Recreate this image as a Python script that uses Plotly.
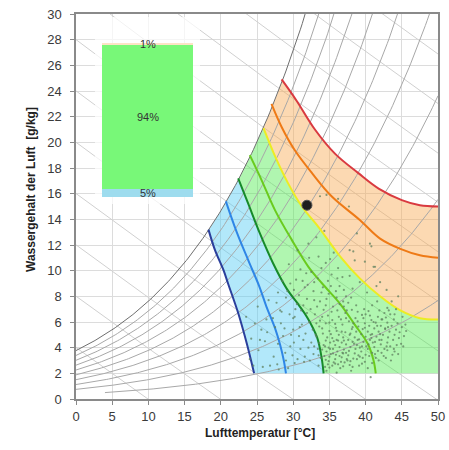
import math
import plotly.graph_objects as go

# ---------------- data ----------------
x_tick_vals = list(range(0, 51, 5))
y_tick_vals = list(range(0, 31, 2))

rh_levels = [10, 20, 30, 40, 50, 60, 70, 80, 90, 100]       # % relative humidity curves
rh_start_temp = [4, 0, 0, 0, 0, 0, 0, 0, 0, 0]
enthalpy_levels = [10, 20, 30, 40, 50, 60, 70, 80, 90, 100, 110, 120, 130, 140]  # kJ/kg

# zone boundary lines (temperature °C, water content g/kg)
navy_T = [18.3, 19.2, 20.4, 21.0, 22.4, 23.6, 24.6]
navy_W = [13.2, 11.6, 10.0, 9.0, 6.7, 4.3, 2.0]
blue_T = [20.7, 22.2, 23.8, 25.3, 26.3, 27.5, 28.2, 28.7, 29.0]
blue_W = [15.4, 13.0, 10.8, 8.8, 7.2, 5.5, 4.2, 3.0, 2.0]
dgreen_T = [22.4, 23.8, 25.4, 27.2, 29.1, 30.8, 32.0, 33.3, 33.9, 34.2]
dgreen_W = [17.2, 15.2, 12.9, 10.6, 8.6, 7.3, 6.3, 4.8, 3.3, 2.0]
lime_T = [24.0, 25.6, 27.5, 29.8, 32.1, 34.0, 36.5, 38.5, 40.3, 41.1, 41.4]
lime_W = [19.0, 17.1, 14.7, 12.4, 10.3, 9.0, 7.4, 5.8, 4.3, 3.0, 2.0]
yellow_T = [25.9, 27.5, 29.3, 31.2, 33.5, 36.5, 39.2, 42.0, 44.8, 47.5, 50.0]
yellow_W = [21.1, 18.9, 16.8, 15.0, 13.4, 11.1, 9.4, 8.0, 6.9, 6.3, 6.2]
orange_T = [27.0, 28.4, 30.2, 32.6, 35.3, 39.2, 42.0, 44.8, 47.5, 50.0]
orange_W = [23.0, 21.2, 19.4, 17.6, 15.8, 13.95, 12.5, 11.7, 11.2, 11.0]
red_T = [28.4, 30.4, 33.0, 35.8, 39.0, 41.8, 45.0, 47.5, 50.0]
red_W = [24.9, 23.3, 21.0, 19.1, 17.6, 16.4, 15.5, 15.1, 15.0]
zone_bottom_W = 2.0
zone_right_T = 50.0

# measured hourly conditions (scatter)
obs_points = [
    (35.4, 2.6), (36.2, 2.7), (37.1, 2.85), (37.9, 2.95), (38.8, 3.1), (39.6, 3.2), (40.5, 3.35), (41.3, 3.5),
    (42.2, 3.6), (43.0, 3.8), (43.9, 3.9), (34.9, 2.95), (35.8, 3.1), (36.7, 3.25), (37.6, 3.4), (38.5, 3.55),
    (39.4, 3.7), (40.3, 3.9), (41.2, 4.05), (42.1, 4.25), (43.0, 4.4), (43.8, 4.6), (44.6, 4.75), (34.3, 3.35),
    (35.2, 3.5), (36.1, 3.7), (37.0, 3.85), (37.9, 4.05), (38.8, 4.2), (39.7, 4.45), (40.6, 4.6), (41.5, 4.85),
    (42.4, 5.0), (43.3, 5.25), (44.2, 5.4), (45.0, 5.6), (34.0, 3.85), (34.9, 4.0), (35.8, 4.2), (36.7, 4.4),
    (37.6, 4.6), (38.5, 4.8), (39.4, 5.05), (40.3, 5.25), (41.2, 5.5), (42.1, 5.7), (43.0, 5.95), (43.9, 6.2),
    (33.6, 4.35), (34.5, 4.55), (35.4, 4.75), (36.3, 5.0), (37.2, 5.2), (38.1, 5.45), (39.0, 5.65), (39.9, 5.9),
    (40.8, 6.15), (41.7, 6.4), (42.6, 6.7), (33.2, 4.85), (34.1, 5.1), (35.0, 5.3), (35.9, 5.55), (36.8, 5.8),
    (37.7, 6.05), (38.6, 6.3), (39.5, 6.55), (40.4, 6.85), (32.7, 5.4), (33.6, 5.65), (34.5, 5.9), (35.4, 6.15),
    (36.3, 6.4), (37.2, 6.7), (38.1, 6.95),
    (35.8, 2.75), (36.6, 2.9), (37.5, 3.0), (38.3, 3.15), (39.2, 3.3), (40.0, 3.45), (40.9, 3.6), (41.7, 3.75),
    (42.6, 3.9), (43.4, 4.1), (44.3, 4.2), (35.0, 3.3), (35.9, 3.45), (36.8, 3.6), (37.7, 3.75), (38.6, 3.9),
    (39.5, 4.1), (40.4, 4.25), (41.3, 4.45), (42.2, 4.6), (43.1, 4.8), (44.0, 5.0), (34.6, 3.7), (35.5, 3.9),
    (36.4, 4.05), (37.3, 4.25), (38.2, 4.45), (39.1, 4.65), (40.0, 4.85), (40.9, 5.05), (41.8, 5.25), (42.7, 5.45),
    (43.6, 5.7), (34.2, 4.2), (35.1, 4.4), (36.0, 4.6), (36.9, 4.8), (37.8, 5.0), (38.7, 5.25), (39.6, 5.45),
    (40.5, 5.7), (41.4, 5.95), (42.3, 6.2),
    (36.5, 2.4), (38.2, 2.5), (40.9, 2.8), (42.8, 3.2), (44.5, 3.5), (39.1, 2.6), (41.8, 3.0), (44.9, 4.3),
    (45.3, 4.9), (43.5, 3.0), (37.4, 3.1), (35.1, 3.9), (36.2, 4.55), (38.9, 4.6), (40.1, 4.1), (41.9, 4.6),
    (42.7, 5.5), (44.4, 5.9), (40.7, 5.0), (39.0, 3.4), (36.9, 3.55), (35.6, 2.85), (34.5, 3.05), (33.8, 3.2),
    (33.4, 3.9), (34.7, 4.8), (36.0, 5.3), (37.9, 5.1), (38.3, 5.9), (39.7, 6.3), (41.1, 6.0), (42.2, 6.2),
    (43.4, 6.6), (35.0, 5.95), (36.6, 6.2), (37.4, 6.9), (33.1, 5.0), (32.5, 4.4), (33.7, 6.1), (34.8, 6.5),
    (36.1, 6.9), (37.0, 7.2), (38.7, 7.3), (39.8, 7.0), (40.9, 7.3), (41.6, 7.6), (35.5, 7.2), (34.2, 6.95),
    (33.0, 6.6), (32.2, 6.0), (31.7, 5.1), (32.1, 4.0), (32.8, 3.5), (31.5, 2.9), (33.5, 2.6), (34.6, 2.2),
    (36.0, 2.05), (38.0, 2.2), (40.3, 2.4), (40.7, 1.7),
    (34.4, 2.5), (35.0, 2.45), (37.8, 2.65), (39.9, 2.9), (42.5, 3.35), (44.0, 3.7), (45.2, 4.1), (44.7, 5.2),
    (45.5, 5.8), (43.2, 6.9), (41.9, 6.9), (40.0, 6.6), (38.9, 6.8), (37.6, 7.5), (36.4, 7.4), (35.3, 6.8),
    (34.0, 6.4), (33.2, 5.9), (32.9, 4.1), (33.5, 3.4), (34.8, 2.7), (36.9, 2.55), (39.5, 2.75), (41.4, 3.2),
    (43.7, 3.45), (42.9, 4.1), (41.0, 4.4), (39.2, 4.0), (37.3, 3.6), (36.4, 3.35), (35.5, 3.55), (34.4, 4.1),
    (35.6, 4.5), (37.0, 4.55), (38.4, 4.3), (40.8, 4.75), (42.0, 5.05), (43.1, 5.6), (41.6, 5.7), (39.9, 5.55),
    (38.2, 5.6), (36.7, 5.25), (35.2, 5.05), (34.0, 5.5), (35.8, 5.85), (37.3, 6.3), (38.9, 6.05), (40.6, 6.5),
    (42.8, 6.35), (44.0, 6.6),
    (29.0, 7.9), (30.1, 8.5), (31.3, 9.2), (32.5, 9.9), (33.4, 9.4), (34.1, 8.7), (35.3, 9.7), (36.2, 10.2),
    (31.1, 6.9), (30.0, 6.3), (28.8, 5.5), (28.4, 6.8), (27.7, 7.5), (31.9, 7.8), (32.8, 8.4), (33.7, 7.6),
    (34.9, 8.2), (36.4, 8.8), (37.3, 8.0), (38.2, 8.6), (37.8, 9.6), (39.2, 9.1), (30.5, 7.4), (29.6, 9.0),
    (31.0, 10.1), (32.2, 11.0), (33.5, 11.1), (34.5, 10.6), (35.6, 11.4), (32.1, 12.1), (33.2, 12.6), (34.3, 13.1),
    (30.6, 11.6), (29.4, 10.5), (28.5, 9.2), (27.9, 8.3),
    (30.8, 8.1), (31.6, 8.7), (32.9, 9.1), (33.9, 10.2), (35.1, 10.9), (36.8, 9.5), (35.9, 8.4), (34.6, 7.8),
    (33.3, 7.2), (32.4, 7.0), (31.4, 7.3), (30.3, 7.0), (29.5, 6.6), (32.0, 8.9), (34.8, 9.2), (36.9, 7.6),
    (31.2, 5.8), (31.9, 6.7), (32.9, 7.7), (33.9, 8.3), (35.2, 8.8), (36.1, 9.4), (37.0, 8.5), (38.0, 7.9),
    (36.0, 7.9), (34.5, 7.3), (31.8, 9.8), (30.4, 9.3), (29.2, 8.4), (30.9, 5.6), (29.7, 5.0), (30.1, 4.4),
    (31.0, 3.9), (30.6, 3.1), (29.0, 3.0), (27.8, 2.7), (28.3, 5.9), (26.4, 5.2), (25.4, 4.6), (24.5, 2.6),
    (28.0, 2.3),
    (24.7, 5.9), (25.6, 5.4), (27.5, 5.6), (30.2, 6.4), (25.2, 3.8), (30.2, 2.8), (31.6, 3.3), (26.3, 6.2),
    (28.2, 6.9), (30.0, 5.4), (31.4, 4.6), (32.3, 3.0), (27.3, 3.3), (29.6, 4.1), (26.1, 4.5), (27.9, 4.3),
    (28.9, 3.6), (29.3, 2.4), (26.8, 2.6), (24.2, 4.7), (23.5, 6.4), (25.1, 7.2), (26.6, 7.7), (28.6, 4.9),
    (29.9, 3.4), (30.8, 4.9), (27.2, 6.3), (24.0, 3.1), (25.8, 2.5),
    (33.7, 15.8), (36.2, 15.6), (37.7, 15.0), (34.6, 15.9), (38.8, 12.9), (40.6, 12.1), (41.1, 10.3), (42.9, 8.5),
    (38.3, 11.5), (37.8, 11.6), (38.5, 10.8), (41.3, 10.3), (40.8, 11.9), (43.6, 7.6), (44.5, 8.0), (42.0, 9.1),
    (39.9, 10.7), (40.2, 8.3), (41.5, 8.8), (43.0, 7.1), (44.2, 7.0), (45.1, 6.4), (45.6, 5.3),
]
obs_T = [p[0] for p in obs_points]
obs_W = [p[1] for p in obs_points]

marked_T = [31.9]
marked_W = [15.1]

# inset stacked bar (share of hours per zone)
share_labels = ["5%", "94%", "1%"]
share_values = [5, 94, 1]
share_colors = ["#9edcee", "#78f878", "#fde3c6"]

# ---------------- psychrometric helpers ----------------
P_ATM = 101325.0


def sat_pressure(t):
    return 610.94 * math.exp(17.625 * t / (t + 243.04))


def water_content(t, phi):
    pv = phi * sat_pressure(t)
    return 622.0 * pv / (P_ATM - pv)


def sat_segment(t_from, t_to, n=30):
    ts = [t_from + (t_to - t_from) * i / n for i in range(n + 1)]
    return ts, [water_content(t, 1.0) for t in ts]


fig = go.Figure()

# enthalpy lines
for h in enthalpy_levels:
    ts = [-5 + i * 0.5 for i in range(131)]
    ws = [(h - 1.006 * t) / (2501 + 1.86 * t) * 1000 for t in ts]
    fig.add_trace(go.Scatter(x=ts, y=ws, mode="lines", line=dict(color="#d0d0d0", width=1),
                             hoverinfo="skip", showlegend=False))

# zone fills
st, sw = sat_segment(dgreen_T[0], navy_T[0])
fig.add_trace(go.Scatter(
    x=navy_T + dgreen_T[::-1] + st, y=navy_W + dgreen_W[::-1] + sw,
    fill="toself", fillcolor="rgba(85,205,245,0.45)", mode="none", showlegend=False, hoverinfo="skip"))
st, sw = sat_segment(yellow_T[0], dgreen_T[0])
fig.add_trace(go.Scatter(
    x=dgreen_T + [zone_right_T] + yellow_T[::-1] + st,
    y=dgreen_W + [zone_bottom_W] + yellow_W[::-1] + sw,
    fill="toself", fillcolor="rgba(80,235,80,0.45)", mode="none", showlegend=False, hoverinfo="skip"))
st, sw = sat_segment(red_T[0], yellow_T[0])
fig.add_trace(go.Scatter(
    x=yellow_T + red_T[::-1] + st, y=yellow_W + red_W[::-1] + sw,
    fill="toself", fillcolor="rgba(249,170,85,0.45)", mode="none", showlegend=False, hoverinfo="skip"))

# relative humidity curves
for phi, t0 in zip(rh_levels, rh_start_temp):
    ts = [t0 + i * 0.25 for i in range(int((50 - t0) / 0.25) + 1)]
    ws = [water_content(t, phi / 100.0) for t in ts]
    col = "#6e6e6e" if phi == 100 else "#a8a8a8"
    fig.add_trace(go.Scatter(x=ts, y=ws, mode="lines", line=dict(color=col, width=1),
                             hoverinfo="skip", showlegend=False))

# zone lines
for xs, ys, col in [
    (navy_T, navy_W, "#2b3f9c"),
    (blue_T, blue_W, "#2f86e6"),
    (dgreen_T, dgreen_W, "#178a2a"),
    (lime_T, lime_W, "#6acb1e"),
    (yellow_T, yellow_W, "#ecec22"),
    (orange_T, orange_W, "#ee7a16"),
    (red_T, red_W, "#d93a40"),
]:
    fig.add_trace(go.Scatter(x=xs, y=ys, mode="lines", line=dict(color=col, width=2, shape="spline"),
                             hoverinfo="skip", showlegend=False))

# observations
fig.add_trace(go.Scatter(x=obs_T, y=obs_W, mode="markers",
                         marker=dict(size=2.2, color="rgba(95,128,95,0.75)"), showlegend=False))
fig.add_trace(go.Scatter(x=marked_T, y=marked_W, mode="markers",
                         marker=dict(size=10, color="#1e1e1e", line=dict(color="#555", width=1)),
                         showlegend=False))

# inset bar
for lab, val, col in zip(share_labels, share_values, share_colors):
    fig.add_trace(go.Bar(x=[0], y=[val], width=0.87, marker=dict(color=col, line=dict(width=0)),
                         xaxis="x2", yaxis="y2", showlegend=False, hoverinfo="skip"))
cum = 0
annots = []
for lab, val in zip(share_labels, share_values):
    annots.append(dict(x=0, y=cum + val / 2, xref="x2", yref="y2", text=lab, showarrow=False,
                       font=dict(size=11, color="#333333")))
    cum += val

W_PX, H_PX = 449, 450
ML, MR, MT, MB = 76, 11, 14, 51
plot_w = W_PX - ML - MR
plot_h = H_PX - MT - MB


def px_x(p):
    return (p - ML) / plot_w


def px_y(p):
    return (H_PX - MB - p) / plot_h


annots.append(dict(x=px_x(260), y=px_y(442), xref="paper", yref="paper", text="<b>Lufttemperatur [°C]</b>",
                   showarrow=False, font=dict(size=12, color="#222222")))
annots.append(dict(x=px_x(22), y=px_y(190), xref="paper", yref="paper",
                   text="<b>Wassergehalt der Luft  [g/kg]</b>", textangle=-90,
                   showarrow=False, font=dict(size=12, color="#222222")))

axis_common = dict(showgrid=True, gridcolor="#dcdcdc", gridwidth=1, showline=True, linecolor="#8a8a8a",
                   linewidth=1.5, mirror=True, ticks="outside", ticklen=4, tickcolor="#8a8a8a",
                   zeroline=False, automargin=False,
                   tickfont=dict(size=13, color="#3a3a3a", family="Arial, Liberation Sans"))

fig.update_layout(
    width=W_PX, height=H_PX,
    margin=dict(l=ML, r=MR, t=MT, b=MB, autoexpand=False),
    paper_bgcolor="white",
    plot_bgcolor="rgba(255,255,255,0.72)",
    barmode="stack",
    font=dict(family="Arial, Liberation Sans, sans-serif"),
    xaxis=dict(range=[0, 50], tickvals=x_tick_vals, ticklabelstandoff=1, **axis_common),
    yaxis=dict(range=[0, 30], tickvals=y_tick_vals, ticklabelstandoff=6, **axis_common),
    xaxis2=dict(domain=[px_x(95), px_x(200)], range=[-0.5, 0.5], anchor="y2", visible=False, fixedrange=True),
    yaxis2=dict(domain=[px_y(204), px_y(17)], range=[-4.5, 116.9], anchor="x2", visible=False, fixedrange=True),
    annotations=annots,
    showlegend=False,
)

fig.write_html("out.html")
